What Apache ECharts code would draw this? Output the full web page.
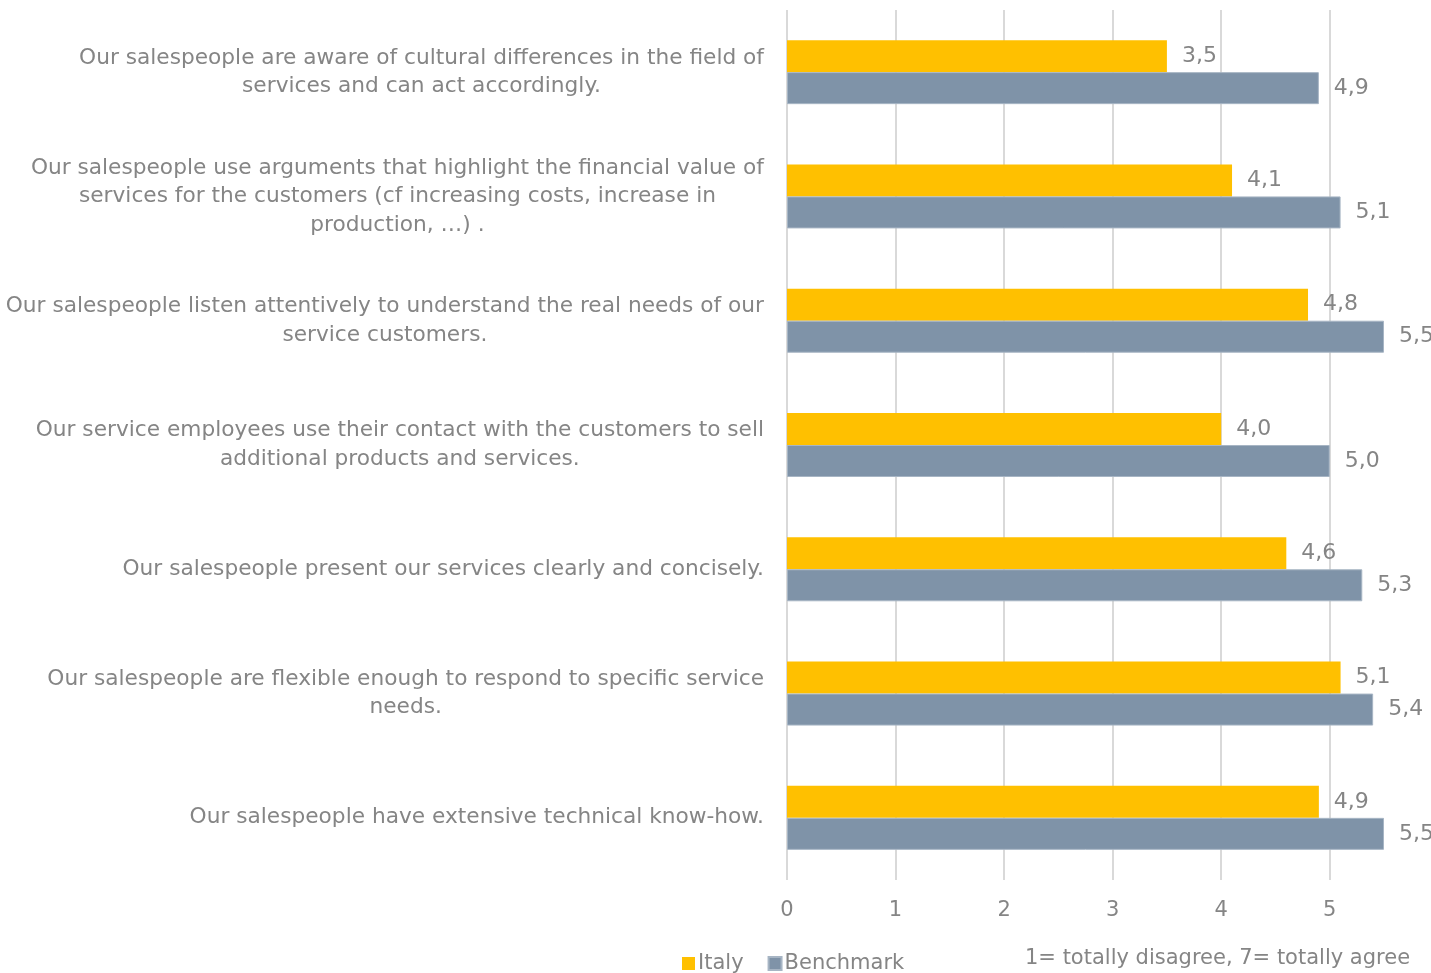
<!DOCTYPE html>
<html>
<head>
<meta charset="utf-8">
<script src="https://cdn.jsdelivr.net/npm/echarts@6/dist/echarts.min.js"></script>
<style>
  html, body { margin: 0; padding: 0; background: #ffffff; }
  #chart { width: 1431px; height: 973px; }
</style>
</head>
<body>
<div id="chart"></div>
<script>
// Survey statements (top to bottom)
const statements = [
  'Our salespeople are aware of cultural differences in the field of\nservices and can act accordingly.',
  'Our salespeople use arguments that highlight the financial value of\nservices for the customers (cf increasing costs, increase in\nproduction, …) .',
  'Our salespeople listen attentively to understand the real needs of our\nservice customers.',
  'Our service employees use their contact with the customers to sell\nadditional products and services.',
  'Our salespeople present our services clearly and concisely.',
  'Our salespeople are flexible enough to respond to specific service\nneeds.',
  'Our salespeople have extensive technical know-how.'
];

// Mean scores on a 1-7 scale
const italyScores = [3.5, 4.1, 4.8, 4.0, 4.6, 5.1, 4.9];
const benchmarkScores = [4.9, 5.1, 5.5, 5.0, 5.3, 5.4, 5.5];

const seriesNames = ['Italy', 'Benchmark'];
const scaleNote = '1= totally disagree, 7= totally agree';

const FONT = '"DejaVu Sans", sans-serif';
const TEXT = '#858585';

const fmt = p => p.value.toFixed(1).replace('.', ',');

// Each line is a centred rich token, so wrapped lines sit centred
// within the label block while the block itself hugs the axis.
const centredLines = v => v.split('\n').map(l => '{c|' + l + '}').join('\n');

const chart = echarts.init(document.getElementById('chart'));
chart.setOption({
  animation: false,
  backgroundColor: '#ffffff',
  textStyle: { fontFamily: FONT, color: TEXT },
  grid: { left: 787, right: 47, top: 10, bottom: 93, containLabel: false },
  legend: {
    left: 677, top: 948,
    icon: 'rect', itemWidth: 13, itemHeight: 13, itemGap: 24,
    textStyle: { fontFamily: FONT, fontSize: 21, color: TEXT, padding: [0, 0, 0, -2] },
    data: seriesNames
  },
  graphic: [{
    type: 'text', left: 1025, top: 948,
    style: { text: scaleNote, font: '21px ' + FONT, fill: TEXT }
  }],
  xAxis: {
    type: 'value', min: 0, max: 5.5, interval: 1,
    axisLine: { show: false }, axisTick: { show: false },
    splitLine: { show: true, showMaxLine: false, lineStyle: { color: '#d9d9d9', width: 2 } },
    axisLabel: {
      margin: 20, fontSize: 21, color: TEXT, fontFamily: FONT, showMaxLabel: false,
      formatter: v => (Number.isInteger(v) ? String(v) : '')
    }
  },
  yAxis: {
    type: 'category', inverse: true, data: statements,
    axisLine: { show: false }, axisTick: { show: false },
    axisLabel: {
      margin: 23, align: 'right',
      formatter: centredLines,
      rich: {
        c: { align: 'center', fontSize: 21.7, lineHeight: 28.5, color: TEXT, fontFamily: FONT }
      }
    }
  },
  series: [
    {
      name: seriesNames[0], type: 'bar', data: italyScores,
      barWidth: 32, barGap: '0%',
      itemStyle: { color: '#FFC000' },
      label: { show: true, position: 'right', distance: 15, fontSize: 22, color: TEXT, fontFamily: FONT, formatter: fmt }
    },
    {
      name: seriesNames[1], type: 'bar', data: benchmarkScores,
      barWidth: 32,
      itemStyle: { color: '#7F93A8', borderColor: '#a7b5c4', borderWidth: 1 },
      label: { show: true, position: 'right', distance: 15, fontSize: 22, color: TEXT, fontFamily: FONT, formatter: fmt }
    }
  ]
});
</script>
</body>
</html>
